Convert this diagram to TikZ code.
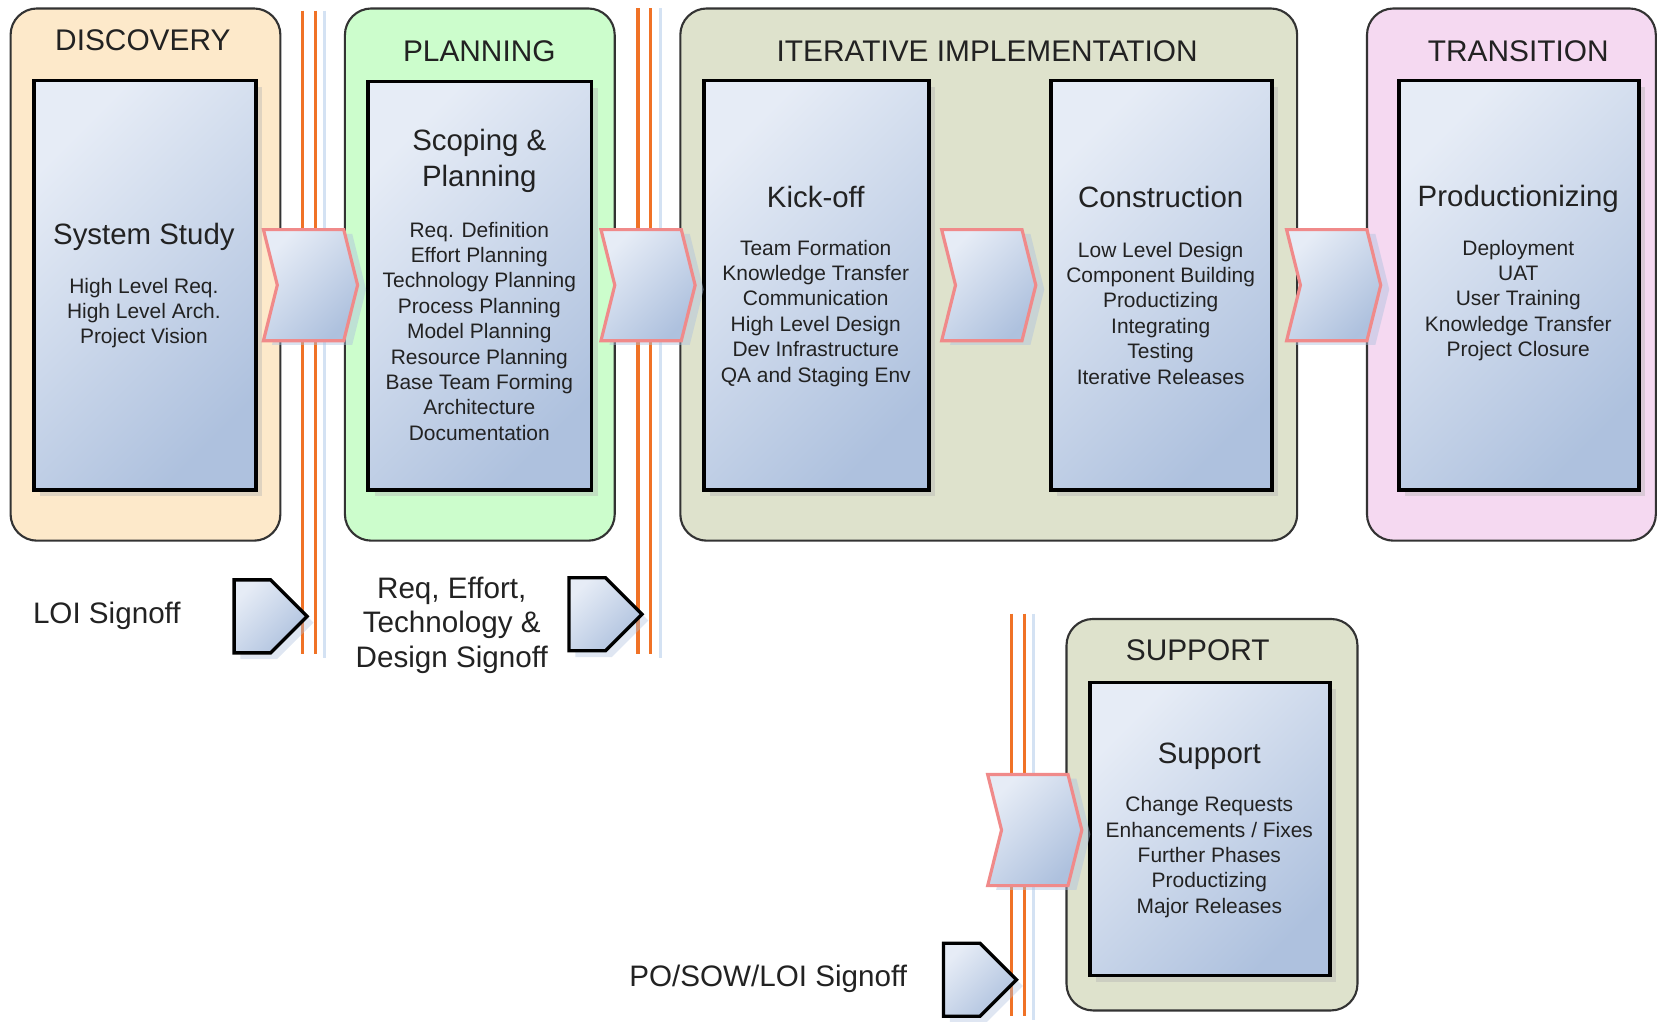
\documentclass[tikz,border=0pt]{standalone}
\usepackage{fontspec}
\setmainfont{Liberation Sans}
\usetikzlibrary{shapes.symbols,shadows}
\definecolor{discfill}{HTML}{FDE9CA}
\definecolor{planfill}{HTML}{CCFDCC}
\definecolor{iterfill}{HTML}{DEE2CC}
\definecolor{tranfill}{HTML}{F5D9F1}
\definecolor{boxlight}{HTML}{E6ECF6}
\definecolor{boxdark}{HTML}{AEC1DE}
\definecolor{gateorange}{HTML}{F07226}
\definecolor{gateblue}{HTML}{D4E2F3}
\definecolor{chevpink}{HTML}{F08A8A}
\definecolor{txt}{HTML}{222222}
\begin{document}
\begin{tikzpicture}[x=0.5pt,y=-0.5pt,
  phase/.style={draw=black!80, line width=1pt, rounded corners=12.5pt, inner sep=0pt},
  activity/.style={draw=black, line width=1.8pt, inner sep=0pt,
    top color=boxlight, bottom color=boxdark, shading angle=45,
    drop shadow={shadow xshift=3pt, shadow yshift=-3pt, fill=black!30, opacity=0.4}},
  chev/.style={signal, signal to=east, signal from=west, signal pointer angle=152,
    draw=chevpink, line width=1.5pt, inner sep=0pt, minimum width=44.5pt, minimum height=52.5pt,
    top color=boxlight, bottom color=boxdark, shading angle=45,
    drop shadow={shadow xshift=4pt, shadow yshift=-2pt, fill=boxdark, opacity=0.45}},
  gatemark/.style={signal, signal to=east, signal pointer angle=90,
    draw=black, line width=1.6pt, inner sep=0pt, minimum width=34.5pt, minimum height=34.5pt,
    top color=boxlight, bottom color=boxdark, shading angle=45,
    drop shadow={shadow xshift=3pt, shadow yshift=-3pt, fill=boxdark, opacity=0.4}},
  gate/.style={draw=gateorange, line width=1.5pt},
  gateshade/.style={draw=gateblue, line width=1.4pt},
  title/.style={font=\fontsize{14.1}{16}\selectfont, text=txt, inner sep=0pt},
  head/.style={font=\fontsize{13.9}{17}\selectfont, text=txt, inner sep=0pt, align=center},
  items/.style={font=\fontsize{9.9}{12}\selectfont, text=txt, inner sep=0pt, align=center},
  signtext/.style={font=\fontsize{14}{16.5}\selectfont, text=txt, inner sep=0pt, align=center}]
\useasboundingbox (0,0) rectangle (1568,965);
% phases
\node[phase, fill=discfill, minimum width=127.5pt, minimum height=251.5pt] (pdisc) at (137.5,259.5) {};
\node[phase, fill=planfill, minimum width=127.5pt, minimum height=251.5pt] (pplan) at (453.5,259.5) {};
\node[phase, fill=iterfill, minimum width=291.5pt, minimum height=251.5pt] (piter) at (934.5,259.5) {};
\node[phase, fill=tranfill, minimum width=136.5pt, minimum height=251.5pt] (ptran) at (1428.5,259.5) {};
\node[phase, fill=iterfill, minimum width=137.5pt, minimum height=185pt] (psupp) at (1145.5,770) {};
% activities
\node[activity, minimum width=105pt, minimum height=193.5pt] (asys) at (137,269.5) {};
\node[activity, minimum width=105.5pt, minimum height=193pt] (ascope) at (453.5,270) {};
\node[activity, minimum width=106.5pt, minimum height=193.5pt] (akick) at (771.5,269.5) {};
\node[activity, minimum width=104.5pt, minimum height=193.5pt] (acons) at (1097.5,269.5) {};
\node[activity, minimum width=113.5pt, minimum height=193.5pt] (aprod) at (1435.5,269.5) {};
\node[activity, minimum width=113.5pt, minimum height=138.5pt] (asupp) at (1143.5,783.5) {};
% gate lines
\coordinate (g1t) at (286,10); \coordinate (g1b) at (286,618);
\coordinate (g2t) at (603,8); \coordinate (g2b) at (603,618);
\coordinate (g3t) at (956,580); \coordinate (g3b) at (956,960);
\foreach \t/\b in {g1t/g1b,g2t/g2b,g3t/g3b}{
  \draw[gateshade] ([xshift=10.5pt]\t) -- ([xshift=10.5pt,yshift=-2pt]\b);
  \draw[gate] (\t) -- (\b);
  \draw[gate] ([xshift=6pt]\t) -- ([xshift=6pt]\b);
}
% chevrons
\node[chev] (c1) at (293.5,269.5) {};
\node[chev] (c2) at (612.5,269.5) {};
\node[chev] (c3) at (934.5,269.5) {};
\node[chev] (c4) at (1260.5,269.5) {};
\node[chev] (c5) at (978,784.5) {};
% signoff markers
\node[gatemark] (m1) at (238.5,582.5) {};
\node[gatemark] (m2) at (555,580.5) {};
\node[gatemark] (m3) at (909,926) {};
% titles
\node[title] (tdisc) at (135,38) {DISCOVERY};
\node[title] (tplan) at (453,48) {PLANNING};
\node[title] (titer) at (933,48) {ITERATIVE IMPLEMENTATION};
\node[title] (ttran) at (1435,48) {TRANSITION};
\node[title] (tsupp) at (1132,615) {SUPPORT};
% headings
\node[head] (hsys) at (136,224) {System Study};
\node[head] (hscope) at (453,152) {Scoping \&\\Planning};
\node[head] (hkick) at (771,186) {Kick-off};
\node[head] (hcons) at (1097,186) {Construction};
\node[head] (hprod) at (1435,188) {Productionizing};
\node[head] (hsupp) at (1143,715) {Support};
% item lists
\node[items] (lsys) at (136,296) {High Level Req.\\High Level Arch.\\Project Vision};
\node[items] (lscope) at (453,313) {Req. Definition\\Effort Planning\\Technology Planning\\Process Planning\\Model Planning\\Resource Planning\\Base Team Forming\\Architecture\\Documentation};
\node[items] (lkick) at (771,296) {Team Formation\\Knowledge Transfer\\Communication\\High Level Design\\Dev Infrastructure\\QA and Staging Env};
\node[items] (lcons) at (1097,296) {Low Level Design\\Component Building\\Productizing\\Integrating\\Testing\\Iterative Releases};
\node[items] (lprod) at (1435,284) {Deployment\\UAT\\User Training\\Knowledge Transfer\\Project Closure};
\node[items] (lsupp) at (1143,810) {Change Requests\\Enhancements / Fixes\\Further Phases\\Productizing\\Major Releases};
% signoff labels
\node[signtext] (sloi) at (101,582) {LOI Signoff};
\node[signtext] (sreq) at (427,591) {Req, Effort,\\Technology \&\\Design Signoff};
\node[signtext] (spo) at (726,925) {PO/SOW/LOI Signoff};
\end{tikzpicture}
\end{document}
